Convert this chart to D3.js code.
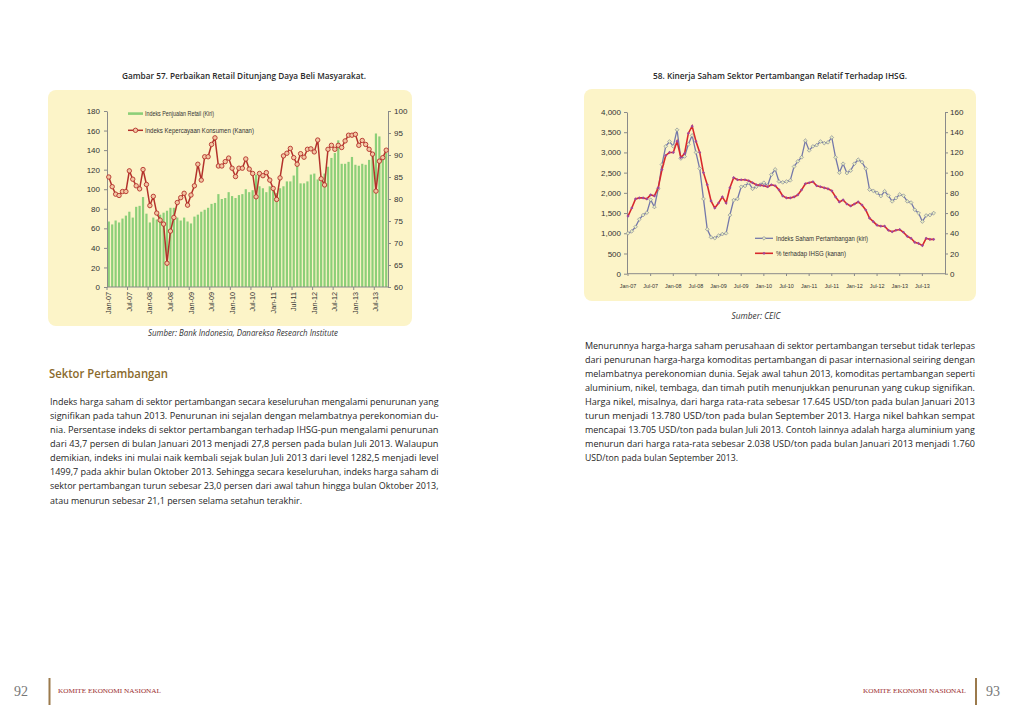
<!DOCTYPE html>
<html><head><meta charset="utf-8">
<script src="https://cdn.jsdelivr.net/npm/d3@7"></script>
<style>html,body{margin:0;padding:0;background:#fff;} svg{display:block;}</style>
</head><body>
<svg id="c" width="1024" height="725"></svg>
<script>
// ---------------- DATA ----------------
// Left chart: Jan-07 .. Oct-13 (82 months)
const retailSales = [
  67,64,68,66,70,73,77,71,82,83,92,75,
  66,71,69,74,76,78,81,81,71,68,71,67,
  65,72,74,77,79,81,85,86,95,90,91,97,
  93,91,94,95,100,97,99,115,103,101,97,103,
  99,96,101,103,108,108,114,125,106,106,108,115,
  116,110,108,116,123,132,137,150,126,126,128,133,
  125,124,126,125,130,137,157,154,132,137
];
const consumerConfidence = [
  85.0,82.8,81.1,80.8,81.7,81.7,86.4,84.5,83.0,82.3,86.7,83.3,
  78.5,80.6,76.8,75.2,74.3,65.4,72.7,75.8,79.2,80.3,81.3,78.6,
  80.9,83.0,87.9,84.3,89.6,89.6,92.4,93.9,87.5,87.5,88.5,89.3,
  87.0,85.1,87.0,87.0,89.1,86.8,85.8,80.5,85.8,85.3,86.0,84.3,
  82.4,79.9,84.8,89.8,90.4,91.5,89.4,87.9,90.3,89.5,91.3,91.4,
  90.7,93.4,84.6,83.2,91.3,92.2,91.3,92.2,91.7,93.2,94.5,94.5,
  94.7,92.2,93.3,92.4,91.3,90.2,81.8,88.6,89.4,91.1
];
// Right chart: Jan-07 .. Oct-13 (82 months)
const miningIndex = [
  1000,1050,1160,1345,1450,1510,1830,1650,2100,2700,3150,3270,
  3150,3560,2850,2900,3200,3420,3000,2600,1850,1100,900,880,
  940,980,1000,1450,1820,1850,2150,2170,2250,2100,2150,2200,
  2250,2180,2450,2580,2280,2260,2280,2310,2650,2780,2880,3290,
  3050,3150,3180,3270,3230,3250,3370,2880,2500,2720,2490,2550,
  2720,2820,2760,2600,2080,2050,2000,1920,2040,1930,1790,1870,
  1960,1930,1790,1760,1580,1500,1290,1440,1450,1500
];
const pctOfIHSG = [
  57,65,74,75,75,74,78,77,85,103,117,120,
  120,131,115,119,139,146,131,120,100,88,72,65,
  70,76,70,85,95,93,93,93,92,90,88,87.5,
  87,86,88,87,83,77,75,75,76,78,83,89,
  90,91,87,86,85,84,82,76,71,73,69,67,
  69,71,68,63,55,51.5,48,47,47,43,41.5,43,
  43.7,41,37,35,31,30,27.8,35,34,34
];
const tickLabels = ["Jan-07","Jul-07","Jan-08","Jul-08","Jan-09","Jul-09","Jan-10",
  "Jul-10","Jan-11","Jul-11","Jan-12","Jul-12","Jan-13","Jul-13"];
const leftTicks = [0,20,40,60,80,100,120,140,160,180];
const rightTicksL = [60,65,70,75,80,85,90,95,100];
const miningTicks = [0,500,1000,1500,2000,2500,3000,3500,4000];
const pctTicks = [0,20,40,60,80,100,120,140,160];

const leftPara = [
 "Indeks harga saham di sektor pertambangan secara keseluruhan mengalami penurunan yang",
 "signifikan pada tahun 2013. Penurunan ini sejalan dengan melambatnya perekonomian du-",
 "nia. Persentase indeks di sektor pertambangan terhadap IHSG-pun mengalami penurunan",
 "dari 43,7 persen di bulan Januari 2013 menjadi 27,8 persen pada bulan Juli 2013. Walaupun",
 "demikian, indeks ini mulai naik kembali sejak bulan Juli 2013 dari level 1282,5 menjadi level",
 "1499,7 pada akhir bulan Oktober 2013. Sehingga secara keseluruhan, indeks harga saham di",
 "sektor pertambangan turun sebesar 23,0 persen dari awal tahun hingga bulan Oktober 2013,",
 "atau menurun sebesar 21,1 persen selama setahun terakhir."
];
const rightPara = [
 "Menurunnya harga-harga saham perusahaan di sektor pertambangan tersebut tidak terlepas",
 "dari penurunan harga-harga komoditas pertambangan di pasar internasional seiring dengan",
 "melambatnya perekonomian dunia. Sejak awal tahun 2013, komoditas pertambangan seperti",
 "aluminium, nikel, tembaga, dan timah putih menunjukkan penurunan yang cukup signifikan.",
 "Harga nikel, misalnya, dari harga rata-rata sebesar 17.645 USD/ton pada bulan Januari 2013",
 "turun menjadi 13.780 USD/ton pada bulan September 2013. Harga nikel bahkan sempat",
 "mencapai 13.705 USD/ton pada bulan Juli 2013. Contoh lainnya adalah harga aluminium yang",
 "menurun dari harga rata-rata sebesar 2.038 USD/ton pada bulan Januari 2013 menjadi 1.760",
 "USD/ton pada bulan September 2013."
];

// ---------------- DRAW ----------------
const svg = d3.select("#c");
const AX = "Liberation Sans, Arial, sans-serif";
const BODY = "Open Sans, Noto Sans, sans-serif";
const PANEL = "#fcf4c8";
const AXIS = "#8a8a8a";

function styleAxis(g, fs) {
  g.select(".domain").attr("stroke", AXIS);
  g.selectAll(".tick line").attr("stroke", AXIS);
  g.selectAll(".tick text").attr("fill", "#333").attr("font-family", AX).attr("font-size", fs);
}

// ===== Left chart =====
svg.append("rect").attr("x",48).attr("y",90).attr("width",364).attr("height",236).attr("rx",8).attr("fill",PANEL);
svg.append("text").attr("x",244).attr("y",79).attr("text-anchor","middle")
  .attr("font-family",BODY).attr("font-weight",600).attr("font-size",9.5).attr("fill","#2a2a2a")
  .attr("textLength",244).attr("lengthAdjust","spacingAndGlyphs")
  .text("Gambar 57. Perbaikan Retail Ditunjang Daya Beli Masyarakat.");

const idx = d3.range(retailSales.length);
const xL = d3.scaleBand().domain(idx).range([107, 388]).paddingInner(0.36).paddingOuter(0.2);
const yL = d3.scaleLinear().domain([0,180]).range([287,111]);
const yR = d3.scaleLinear().domain([60,100]).range([287,111]);

const gL = svg.append("g");
gL.append("g").selectAll("rect").data(retailSales).join("rect")
  .attr("x",(d,i)=>xL(i)).attr("width",xL.bandwidth())
  .attr("y",d=>yL(d)).attr("height",d=>yL(0)-yL(d)).attr("fill","#8ccf78");

const axL = gL.append("g").attr("transform","translate(107,0)")
  .call(d3.axisLeft(yL).tickValues(leftTicks).tickSize(3).tickSizeOuter(0).tickPadding(4));
styleAxis(axL, 8);
const axR = gL.append("g").attr("transform","translate(388,0)")
  .call(d3.axisRight(yR).tickValues(rightTicksL).tickSize(3).tickSizeOuter(0).tickPadding(3));
styleAxis(axR, 8);

// x axis
gL.append("line").attr("x1",107).attr("x2",388).attr("y1",287).attr("y2",287).attr("stroke",AXIS);
tickLabels.forEach((lab,k)=>{
  const i = k*6;
  const xb = 107 + i*(281/retailSales.length);
  gL.append("line").attr("x1",xb).attr("x2",xb).attr("y1",287).attr("y2",290).attr("stroke",AXIS);
  gL.append("text").attr("transform",`translate(${xL(i)+xL.bandwidth()/2},292) rotate(-90)`)
    .attr("text-anchor","end").attr("dy","0.35em").attr("font-family",AX).attr("font-size",7.2)
    .attr("fill","#333").text(lab);
});

const lineL = d3.line().x((d,i)=>xL(i)+xL.bandwidth()/2).y(d=>yR(d));
gL.append("path").datum(consumerConfidence).attr("d",lineL).attr("fill","none")
  .attr("stroke","#b3312b").attr("stroke-width",1.5);
gL.append("g").selectAll("circle").data(consumerConfidence).join("circle")
  .attr("cx",(d,i)=>xL(i)+xL.bandwidth()/2).attr("cy",d=>yR(d)).attr("r",2.2)
  .attr("fill","#f3c7a2").attr("stroke","#b3312b").attr("stroke-width",0.9);

// legend
gL.append("rect").attr("x",128).attr("y",112.3).attr("width",15).attr("height",2.6).attr("fill","#8ccf78");
gL.append("text").attr("x",145).attr("y",115.5).attr("font-family",AX).attr("font-size",6.3).attr("fill","#333")
  .attr("textLength",69).attr("lengthAdjust","spacingAndGlyphs").text("Indeks Penjualan Retail (Kiri)");
gL.append("line").attr("x1",128).attr("x2",143).attr("y1",130.3).attr("y2",130.3).attr("stroke","#b3312b").attr("stroke-width",1.5);
gL.append("circle").attr("cx",135.5).attr("cy",130.3).attr("r",2.2).attr("fill","#f3c7a2").attr("stroke","#b3312b").attr("stroke-width",0.9);
gL.append("text").attr("x",145).attr("y",132.6).attr("font-family",AX).attr("font-size",6.3).attr("fill","#333")
  .attr("textLength",109).attr("lengthAdjust","spacingAndGlyphs").text("Indeks Kepercayaan Konsumen (Kanan)");

svg.append("text").attr("x",243).attr("y",336).attr("text-anchor","middle").attr("font-family",BODY)
  .attr("font-style","italic").attr("font-size",8.3).attr("fill","#333")
  .attr("textLength",190).attr("lengthAdjust","spacingAndGlyphs")
  .text("Sumber: Bank Indonesia, Danareksa Research Institute");

// ===== Right chart =====
svg.append("rect").attr("x",584).attr("y",89).attr("width",392).attr("height",212).attr("rx",8).attr("fill",PANEL);
svg.append("text").attr("x",780).attr("y",79).attr("text-anchor","middle")
  .attr("font-family",BODY).attr("font-weight",600).attr("font-size",9.5).attr("fill","#2a2a2a")
  .attr("textLength",254).attr("lengthAdjust","spacingAndGlyphs")
  .text("58. Kinerja Saham Sektor Pertambangan Relatif Terhadap IHSG.");

const x2 = d3.scaleLinear().domain([0,84]).range([628,945]);
const y2L = d3.scaleLinear().domain([0,4000]).range([273.7,112]);
const y2R = d3.scaleLinear().domain([0,160]).range([273.7,112]);
const g2 = svg.append("g");
const ax2L = g2.append("g").attr("transform","translate(627,0)")
  .call(d3.axisLeft(y2L).tickValues(miningTicks).tickSize(3).tickSizeOuter(0).tickPadding(3).tickFormat(d3.format(",")));
styleAxis(ax2L, 8);
const ax2R = g2.append("g").attr("transform","translate(945,0)")
  .call(d3.axisRight(y2R).tickValues(pctTicks).tickSize(3).tickSizeOuter(0).tickPadding(2));
styleAxis(ax2R, 8);
g2.append("line").attr("x1",627).attr("x2",945).attr("y1",273.7).attr("y2",273.7).attr("stroke",AXIS);
tickLabels.forEach((lab,k)=>{
  const i = k*6;
  g2.append("line").attr("x1",x2(i)).attr("x2",x2(i)).attr("y1",273.7).attr("y2",276).attr("stroke",AXIS);
  g2.append("text").attr("x",x2(i)).attr("y",287.5).attr("text-anchor","middle")
    .attr("font-family",AX).attr("font-size",5.4).attr("fill","#333").text(lab);
});
const diamond = d3.symbol(d3.symbolSquare, 7);
const diamondS = d3.symbol(d3.symbolSquare, 5);
const lineBlue = d3.line().x((d,i)=>x2(i)).y(d=>y2L(d));
const lineRed = d3.line().x((d,i)=>x2(i)).y(d=>y2R(d));
g2.append("path").datum(miningIndex).attr("d",lineBlue).attr("fill","none").attr("stroke","#7478aa").attr("stroke-width",1.3);
g2.append("g").selectAll("path").data(miningIndex).join("path").attr("d",diamond)
  .attr("transform",(d,i)=>`translate(${x2(i)},${y2L(d)}) rotate(45)`)
  .attr("fill","#e6ecc0").attr("stroke","#808496").attr("stroke-width",0.6);
g2.append("path").datum(pctOfIHSG).attr("d",lineRed).attr("fill","none").attr("stroke","#d8282c").attr("stroke-width",1.6);
g2.append("g").selectAll("path").data(pctOfIHSG).join("path").attr("d",diamondS)
  .attr("transform",(d,i)=>`translate(${x2(i)},${y2R(d)}) rotate(45)`)
  .attr("fill","#a0489c");

// legend
g2.append("line").attr("x1",755).attr("x2",773).attr("y1",238.3).attr("y2",238.3).attr("stroke","#7478aa").attr("stroke-width",1.3);
g2.append("path").attr("d",diamond).attr("transform","translate(764,238.3) rotate(45)").attr("fill","#e6ecc0").attr("stroke","#808496").attr("stroke-width",0.6);
g2.append("text").attr("x",776).attr("y",240.5).attr("font-family",AX).attr("font-size",6.3).attr("fill","#333")
  .attr("textLength",92).attr("lengthAdjust","spacingAndGlyphs").text("Indeks Saham Pertambangan (kiri)");
g2.append("line").attr("x1",755).attr("x2",773).attr("y1",253.3).attr("y2",253.3).attr("stroke","#d8282c").attr("stroke-width",1.6);
g2.append("path").attr("d",diamondS).attr("transform","translate(764,253.3) rotate(45)").attr("fill","#a0489c");
g2.append("text").attr("x",776).attr("y",255.5).attr("font-family",AX).attr("font-size",6.3).attr("fill","#333")
  .attr("textLength",70).attr("lengthAdjust","spacingAndGlyphs").text("% terhadap IHSG (kanan)");

svg.append("text").attr("x",756).attr("y",319).attr("text-anchor","middle").attr("font-family",BODY)
  .attr("font-style","italic").attr("font-size",8.3).attr("fill","#333").text("Sumber: CEIC");

// ===== Text =====
svg.append("text").attr("x",49).attr("y",378).attr("font-family",BODY).attr("font-size",13).attr("font-weight",600)
  .attr("fill","#8a6a2c").attr("textLength",119).attr("lengthAdjust","spacingAndGlyphs").text("Sektor Pertambangan");

function para(lines, x, y0, w, lastW) {
  lines.forEach((t,i)=>{
    svg.append("text").attr("x",x).attr("y",y0+i*14.1).attr("font-family",BODY).attr("font-size",9.4)
      .attr("fill","#262626").attr("textLength", i===lines.length-1 ? lastW : w)
      .attr("lengthAdjust","spacingAndGlyphs").text(t);
  });
}
para(leftPara, 50, 404.8, 388.5, 252);
para(rightPara, 585, 348.6, 390, 153);

// ===== Footer =====
svg.append("text").attr("x",14).attr("y",696).attr("font-family","Liberation Serif, serif").attr("font-size",14).attr("fill","#777").text("92");
svg.append("rect").attr("x",48.5).attr("y",678).attr("width",2).attr("height",27).attr("fill","#9b7a4c");
svg.append("text").attr("x",58).attr("y",693).attr("font-family","Liberation Serif, serif").attr("font-size",7)
  .attr("fill","#9b2d2d").attr("textLength",103).attr("lengthAdjust","spacingAndGlyphs").text("KOMITE EKONOMI NASIONAL");
svg.append("text").attr("x",863).attr("y",693).attr("font-family","Liberation Serif, serif").attr("font-size",7)
  .attr("fill","#9b2d2d").attr("textLength",103).attr("lengthAdjust","spacingAndGlyphs").text("KOMITE EKONOMI NASIONAL");
svg.append("rect").attr("x",975).attr("y",678).attr("width",2).attr("height",27).attr("fill","#9b7a4c");
svg.append("text").attr("x",986).attr("y",696).attr("font-family","Liberation Serif, serif").attr("font-size",14).attr("fill","#777").text("93");
</script>
</body></html>
